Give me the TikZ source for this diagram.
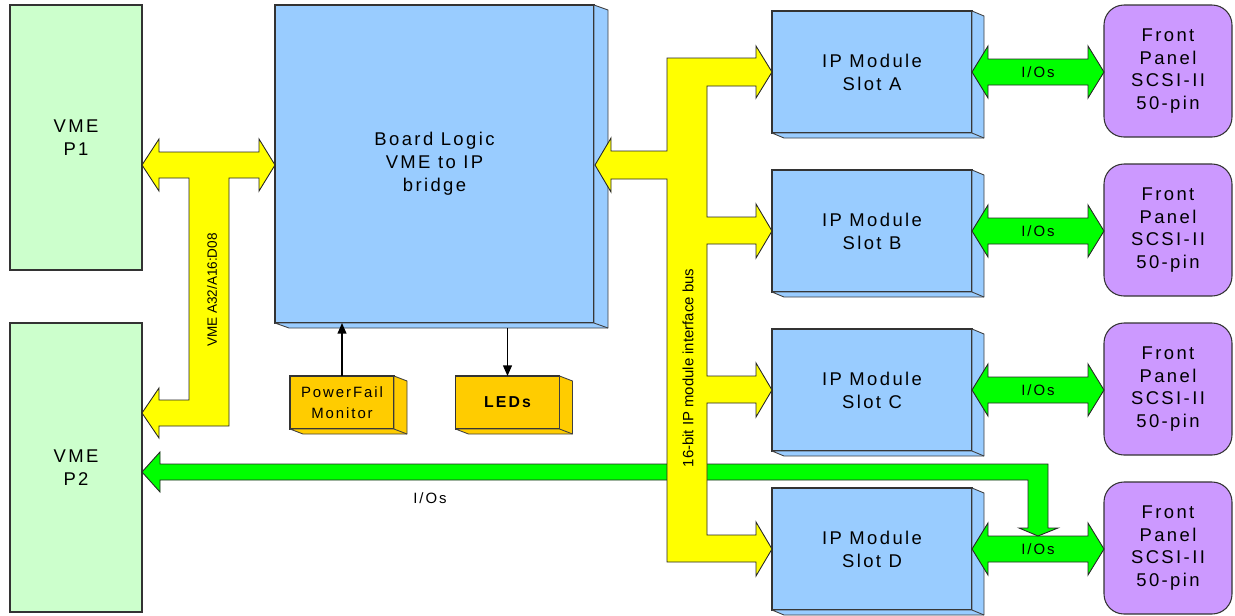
\documentclass[tikz,border=0pt]{standalone}
\usepackage{fontspec}
\setmainfont{Liberation Sans}
\newfontfamily\spaced{Liberation Sans}[LetterSpace=13]
\usetikzlibrary{calc,arrows.meta}

\definecolor{vmegreen}{HTML}{CCFFCC}
\definecolor{logicblue}{HTML}{99CCFF}
\definecolor{busyellow}{HTML}{FFFF00}
\definecolor{iogreen}{HTML}{00FF00}
\definecolor{panelpurple}{HTML}{CC99FF}
\definecolor{ledorange}{HTML}{FFCC00}

\tikzset{
  box/.style={draw=black!80, line width=0.6pt, inner sep=0pt, outer sep=0pt, align=center,
    font=\spaced\fontsize{10.5}{13}\selectfont},
  vme/.style={box, fill=vmegreen, minimum width=26.4mm, minimum height=#1},
  ipmod/.style={box, fill=logicblue, minimum width=40mm, minimum height=24.4mm},
  panel/.style={box, fill=panelpurple, rounded corners=4mm, minimum width=25.6mm, minimum height=26.4mm},
  smallbox/.style={box, fill=ledorange, minimum width=20.8mm, minimum height=10.6mm,
    font=\spaced\fontsize{8.5}{12}\selectfont},
  bus/.style={draw=black!85, line width=0.5pt, fill=busyellow, line join=miter},
  iobus/.style={draw=black!85, line width=0.5pt, fill=iogreen, line join=miter},
  iolabel/.style={inner sep=0pt, font=\spaced\fontsize{8.5}{10}\selectfont},
  buslabel/.style={inner sep=0pt, rotate=90, font=\fontsize{#1}{10}\selectfont},
  sig/.style={-{Triangle[length=6pt,width=5pt]}, line width=0.8pt, black},
}

% side and bottom faces of a box: fill, node, dx, dy
\newcommand{\extrude}[4]{%
  \draw[line width=0.5pt, draw=black!75, fill=#1, line join=round]
    (#2.north east) -- ++(#3,#4) -- ($(#2.south east)+(#3,#4)$)
    -- ($(#2.south west)+(#3,#4)$) -- (#2.south west) -- (#2.south east) -- cycle;
  \draw[line width=0.5pt, draw=black!75] (#2.south east) -- ++(#3,#4);}

\begin{document}
\begin{tikzpicture}[x=0.2mm, y=-0.2mm]
	\useasboundingbox (0,0) rectangle (1235,615);

	% VME connectors
	\node[vme=53mm] (vmeP1) at (76,137.5) {VME\\P1};
	\node[vme=57.8mm] (vmeP2) at (76,467.5) {VME\\P2};

	% bridge
	\node[box, fill=logicblue, minimum width=63.8mm, minimum height=63.6mm] (logic) at (434.5,164) {Board Logic\\VME to IP\\bridge};
	\extrude{logicblue}{logic}{14}{5}

	% power fail and leds
	\node[smallbox] (pfm) at (342,402.5) {PowerFail\\Monitor};
	\extrude{ledorange}{pfm}{13}{5}
	\node[smallbox, font=\spaced\bfseries\fontsize{9}{12}\selectfont] (leds) at (507.5,402.5) {LEDs};
	\extrude{ledorange}{leds}{13}{5}

	\draw[sig] (pfm.north) -- (pfm.north |- logic.south);
	\draw[sig] ($(leds.north |- logic.south)+(0,5)$) -- (leds.north);

	% IP modules and front panels
	\foreach \s/\y in {A/72,B/231,C/390,D/549} {
		\node[ipmod] (ip\s) at (872,\y) {IP Module\\Slot \s};
		\extrude{logicblue}{ip\s}{12}{5}
		\node[panel] (fp\s) at (1168,\y-1) {Front\\Panel\\SCSI-II\\50-pin};
		\draw[iobus] (ip\s.east) -- ++(16,-26) -- ++(0,13) -- ++(100,0) -- ++(0,-13)
			-- (fp\s.west |- ip\s.east) -- ++(-16,26) -- ++(0,-13) -- ++(-100,0) -- ++(0,13) -- cycle;
		\node[iolabel] (io\s) at (1038,\y) {I/Os};
	}

	% I/Os back to P2
	\draw[iobus] (142,472) -- (160,452) -- (160,464) -- (1048,464) -- (1048,528) -- (1058,528)
		-- (1038,536) -- (1019,528) -- (1028,528) -- (1028,480) -- (160,480) -- (160,492) -- cycle;
	\node[iolabel] (ioP2) at (430,498) {I/Os};

	% VME bus
	\draw[bus] (142,165) -- (159,139) -- (159,152) -- (259,152) -- (259,139) -- (275,165)
		-- (259,191) -- (259,178) -- (229,178) -- (229,426) -- (159,426) -- (159,438)
		-- (142,413) -- (159,388) -- (159,400) -- (189,400) -- (189,178) -- (159,178)
		-- (159,191) -- cycle;
	\node[buslabel=7.7] (vmebus) at (212,290) {VME A32/A16:D08};

	% IP module interface bus
	\draw[bus] (667,58) -- (756,58) -- (756,46) -- (772,72) -- (756,98) -- (756,86)
		-- (707,86) -- (707,217) -- (756,217) -- (756,204) -- (772,231) -- (756,258) -- (756,244)
		-- (707,244) -- (707,376) -- (756,376) -- (756,363) -- (772,390) -- (756,417) -- (756,403)
		-- (707,403) -- (707,535) -- (756,535) -- (756,522) -- (772,549) -- (756,576) -- (756,562)
		-- (667,562) -- (667,179) -- (611,179) -- (611,192) -- (595,165) -- (611,138) -- (611,151)
		-- (667,151) -- cycle;
	\node[buslabel=8.5] (ipbus) at (688,368) {16-bit IP module interface bus};
\end{tikzpicture}
\end{document}
